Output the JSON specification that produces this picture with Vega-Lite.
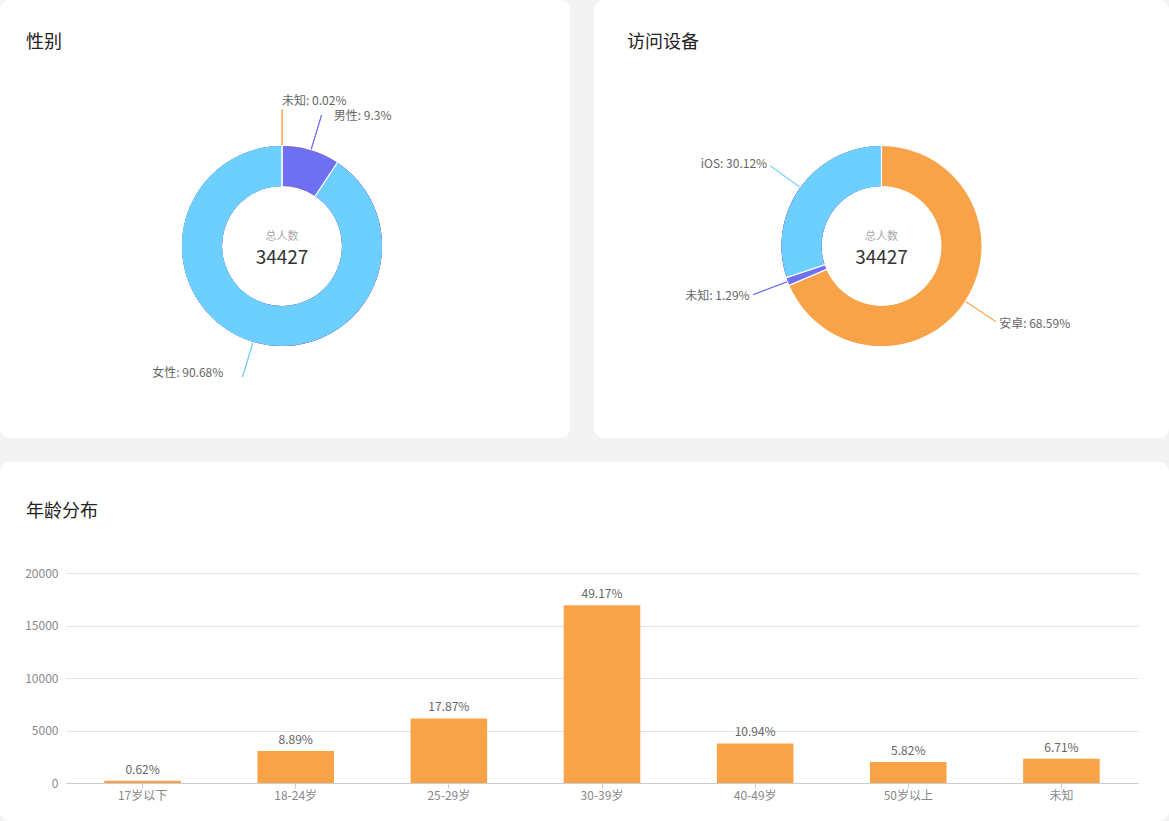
{
  "$schema": "https://vega.github.io/schema/vega-lite/v6.json",
  "background": "#f3f3f3",
  "padding": 0,
  "config": {"font": "Noto Sans CJK SC", "view": {"stroke": null}},
  "datasets": {
    "gender": [
      {"name": "未知", "count": 7, "label": "未知: 0.02%"},
      {"name": "男性", "count": 3202, "label": "男性: 9.3%"},
      {"name": "女性", "count": 31218, "label": "女性: 90.68%"}
    ],
    "device": [
      {"name": "安卓", "count": 23613, "label": "安卓: 68.59%"},
      {"name": "未知", "count": 444, "label": "未知: 1.29%"},
      {"name": "iOS", "count": 10370, "label": "iOS: 30.12%"}
    ],
    "age": [
      {"age": "17岁以下", "count": 212, "pct": "0.62%"},
      {"age": "18-24岁", "count": 3059, "pct": "8.89%"},
      {"age": "25-29岁", "count": 6151, "pct": "17.87%"},
      {"age": "30-39岁", "count": 16928, "pct": "49.17%"},
      {"age": "40-49岁", "count": 3765, "pct": "10.94%"},
      {"age": "50岁以上", "count": 2003, "pct": "5.82%"},
      {"age": "未知", "count": 2309, "pct": "6.71%"}
    ]
  },
  "spacing": 24,
  "resolve": {"scale": {"color": "independent", "theta": "independent"}},
  "vconcat": [
    {
      "spacing": 24,
      "resolve": {"scale": {"color": "independent", "theta": "independent"}},
      "hconcat": [
        {
          "width": 570,
          "height": 438,
          "view": {"fill": "white", "cornerRadius": 10, "stroke": null},
          "title": {"text": "性别", "anchor": "start", "frame": "group", "dx": 26, "offset": -61, "baseline": "middle", "fontSize": 18, "fontWeight": "normal", "color": "#222"},
          "data": {"name": "gender"},
          "transform": [
            {"fold": ["count", "count"], "as": ["k", "val"]},
            {"window": [{"op": "row_number", "as": "rn"}]},
            {"stack": "val", "groupby": [], "sort": [{"field": "rn", "order": "ascending"}], "as": ["v0", "v1"]},
            {"joinaggregate": [{"op": "sum", "field": "val", "as": "tot"}]}
          ],
          "layer": [
            {
              "mark": {"type": "arc", "radius": 100, "radius2": 60, "xOffset": -3, "yOffset": 27},
              "encoding": {
                "theta": {"field": "tot", "type": "quantitative", "stack": null},
                "theta2": {"field": "v0"},
                "color": {"field": "name", "type": "nominal", "scale": {"domain": ["未知", "男性", "女性"], "range": ["#f9a349", "#6f6ff2", "#6dcffe"]}, "legend": null}
              }
            },
            {
              "transform": [{"filter": "datum.rn % 2 == 1"}],
              "mark": {"type": "arc", "filled": false, "stroke": "white", "strokeWidth": 1.2, "radius": 101, "radius2": 59, "xOffset": -3, "yOffset": 27},
              "encoding": {
                "theta": {"field": "v0", "type": "quantitative", "stack": null},
                "theta2": {"field": "v0"}
              }
            },
            {
              "transform": [{"filter": "datum.rn % 2 == 0"}],
              "mark": {"type": "arc", "filled": false, "strokeWidth": 1, "radius": 137, "radius2": 101, "xOffset": -3, "yOffset": 27},
              "encoding": {
                "theta": {"field": "v0", "type": "quantitative", "stack": null},
                "theta2": {"field": "v0"},
                "color": {"field": "name", "type": "nominal", "legend": null}
              }
            },
            {
              "transform": [{"filter": "datum.rn % 2 == 0 && datum.name == '未知'"}],
              "mark": {"type": "text", "radius": 141, "align": "left", "baseline": "middle", "fontSize": 12, "color": "#666", "xOffset": -3, "yOffset": 27, "dy": -4},
              "encoding": {
                "theta": {"field": "v0", "type": "quantitative", "stack": null},
                "text": {"field": "label", "type": "nominal"}
              }
            },
            {
              "transform": [{"filter": "datum.rn % 2 == 0 && datum.name == '男性'"}],
              "mark": {"type": "text", "radius": 141, "align": "left", "baseline": "middle", "fontSize": 12, "color": "#666", "xOffset": -3, "yOffset": 27, "dx": 11, "dy": 5},
              "encoding": {
                "theta": {"field": "v0", "type": "quantitative", "stack": null},
                "text": {"field": "label", "type": "nominal"}
              }
            },
            {
              "transform": [{"filter": "datum.rn % 2 == 0 && datum.name == '女性'"}],
              "mark": {"type": "text", "radius": 141, "align": "right", "baseline": "middle", "fontSize": 12, "color": "#666", "xOffset": -3, "yOffset": 27, "dx": -18, "dy": -8},
              "encoding": {
                "theta": {"field": "v0", "type": "quantitative", "stack": null},
                "text": {"field": "label", "type": "nominal"}
              }
            },
            {
              "transform": [{"filter": "datum.rn == 1"}],
              "mark": {"type": "text", "text": "总人数", "fontSize": 11, "color": "#aaa", "baseline": "middle", "xOffset": -3, "yOffset": 18},
              "encoding": {}
            },
            {
              "transform": [{"filter": "datum.rn % 2 == 1"}, {"aggregate": [{"op": "sum", "field": "count", "as": "total"}]}],
              "mark": {"type": "text", "fontSize": 19, "color": "#333", "baseline": "middle", "xOffset": -3, "yOffset": 39},
              "encoding": {"text": {"field": "total", "type": "quantitative", "format": "d"}}
            }
          ]
        },
        {
          "width": 575,
          "height": 438,
          "view": {"fill": "white", "cornerRadius": 10, "stroke": null},
          "title": {"text": "访问设备", "anchor": "start", "frame": "group", "dx": 33, "offset": -61, "baseline": "middle", "fontSize": 18, "fontWeight": "normal", "color": "#222"},
          "data": {"name": "device"},
          "transform": [
            {"fold": ["count", "count"], "as": ["k", "val"]},
            {"window": [{"op": "row_number", "as": "rn"}]},
            {"stack": "val", "groupby": [], "sort": [{"field": "rn", "order": "ascending"}], "as": ["v0", "v1"]},
            {"joinaggregate": [{"op": "sum", "field": "val", "as": "tot"}]}
          ],
          "layer": [
            {
              "mark": {"type": "arc", "radius": 100, "radius2": 60, "yOffset": 27},
              "encoding": {
                "theta": {"field": "tot", "type": "quantitative", "stack": null},
                "theta2": {"field": "v0"},
                "color": {"field": "name", "type": "nominal", "scale": {"domain": ["安卓", "未知", "iOS"], "range": ["#f9a349", "#6f6ff2", "#6dcffe"]}, "legend": null}
              }
            },
            {
              "transform": [{"filter": "datum.rn % 2 == 1"}],
              "mark": {"type": "arc", "filled": false, "stroke": "white", "strokeWidth": 1.2, "radius": 101, "radius2": 59, "yOffset": 27},
              "encoding": {
                "theta": {"field": "v0", "type": "quantitative", "stack": null},
                "theta2": {"field": "v0"}
              }
            },
            {
              "transform": [{"filter": "datum.rn % 2 == 0"}],
              "mark": {"type": "arc", "filled": false, "strokeWidth": 1, "radius": 137, "radius2": 101, "yOffset": 27},
              "encoding": {
                "theta": {"field": "v0", "type": "quantitative", "stack": null},
                "theta2": {"field": "v0"},
                "color": {"field": "name", "type": "nominal", "legend": null}
              }
            },
            {
              "transform": [{"filter": "datum.rn % 2 == 0"}],
              "mark": {"type": "text", "radius": 141, "align": "left", "baseline": "middle", "fontSize": 12, "color": "#666", "yOffset": 27},
              "encoding": {
                "theta": {"field": "v0", "type": "quantitative", "stack": null},
                "text": {"condition": {"test": "datum.v0 < datum.tot / 2", "field": "label", "type": "nominal"}, "value": ""}
              }
            },
            {
              "transform": [{"filter": "datum.rn % 2 == 0"}],
              "mark": {"type": "text", "radius": 141, "align": "right", "baseline": "middle", "fontSize": 12, "color": "#666", "yOffset": 27},
              "encoding": {
                "theta": {"field": "v0", "type": "quantitative", "stack": null},
                "text": {"condition": {"test": "datum.v0 >= datum.tot / 2", "field": "label", "type": "nominal"}, "value": ""}
              }
            },
            {
              "transform": [{"filter": "datum.rn == 1"}],
              "mark": {"type": "text", "text": "总人数", "fontSize": 11, "color": "#aaa", "baseline": "middle", "yOffset": 18},
              "encoding": {}
            },
            {
              "transform": [{"filter": "datum.rn % 2 == 1"}, {"aggregate": [{"op": "sum", "field": "count", "as": "total"}]}],
              "mark": {"type": "text", "fontSize": 19, "color": "#333", "baseline": "middle", "yOffset": 39},
              "encoding": {"text": {"field": "total", "type": "quantitative", "format": "d"}}
            }
          ]
        }
      ]
    },
    {
      "width": 1169,
      "height": 359,
      "view": {"fill": "white", "cornerRadius": 10, "stroke": null},
      "title": {"text": "年龄分布", "anchor": "start", "frame": "group", "dx": 26, "offset": -68, "baseline": "middle", "fontSize": 18, "fontWeight": "normal", "color": "#222"},
      "data": {"name": "age"},
      "encoding": {
        "x": {
          "field": "age", "type": "nominal", "sort": null,
          "scale": {"range": [66, 1138], "paddingInner": 0.5, "paddingOuter": 0.25},
          "axis": {"title": null, "labelAngle": 0, "offset": -38, "domainColor": "#cccccc", "tickColor": "#cccccc", "tickSize": 5, "labelPadding": 2, "labelColor": "#888", "labelFontSize": 12}
        },
        "y": {
          "field": "count", "type": "quantitative",
          "scale": {"domain": [0, 20000], "range": [321, 111], "nice": false},
          "axis": {"title": null, "offset": -66, "values": [0, 5000, 10000, 15000, 20000], "format": "d", "domain": false, "ticks": false, "labelPadding": 8, "labelColor": "#888", "labelFontSize": 12, "grid": true, "gridColor": "#e3e3e3"}
        }
      },
      "layer": [
        {"mark": {"type": "bar", "color": "#f9a349"}},
        {"mark": {"type": "text", "dy": -7, "fontSize": 12, "color": "#666", "baseline": "alphabetic"}, "encoding": {"text": {"field": "pct", "type": "nominal"}}}
      ]
    }
  ]
}
